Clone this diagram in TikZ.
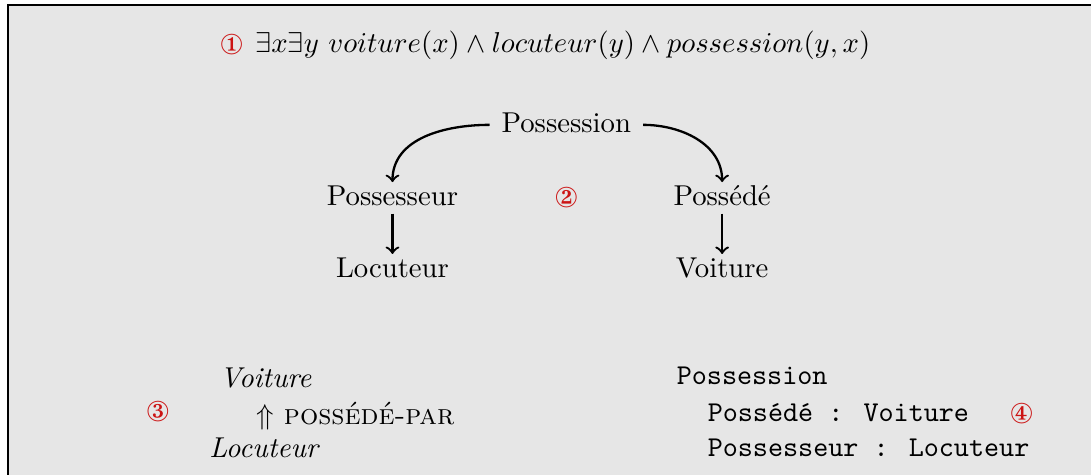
\documentclass[tikz,border=0pt]{standalone}
\usepackage{fontspec}
\usepackage{xcolor}
\usepackage{pifont}
\usepackage{tikz}
\usetikzlibrary{arrows,positioning}

\definecolor{fond}{HTML}{E6E6E6}
\definecolor{rouge}{rgb}{0.8,0.08,0.08}

\begin{document}
\begin{tikzpicture}[
    concept/.style={inner xsep=4pt, inner ysep=1.5pt, text height=1.5ex, text depth=.25ex},
    numero/.style={text=rouge, inner sep=1pt},
    ligne/.style={inner sep=0pt, anchor=base west},
    fleche/.style={->, thick}
]
    \useasboundingbox (0,0) rectangle (13.354,-5.802);
    % Cadre
    \fill[fond] (0.098,-0.061) rectangle (13.6,-6.0);
    \draw[line width=0.7pt] (0.098,-6.0) -- (0.098,-0.061) -- (13.6,-0.061);

    % 1 - Formule logique
    \node[numero] (n1) at (2.836,-0.550) {\ding{172}};
    \node (formule) at (6.889,-0.550) {$\exists x\exists y\ voiture(x)\wedge locuteur(y)\wedge possession(y,x)$};

    % 2 - Graphe conceptuel
    \node[concept] (poss) at (6.932,-1.528) {Possession};
    \node[concept] (possr) at (4.804,-2.421) {Possesseur};
    \node[numero] (n2) at (6.932,-2.421) {\ding{173}};
    \node[concept] (posse) at (8.839,-2.421) {Possédé};
    \node[concept] (loc) at (4.804,-3.301) {Locuteur};
    \node[concept] (voit) at (8.839,-3.301) {Voiture};

    \draw[fleche] (poss.west) to[out=180, in=90] (possr.north);
    \draw[fleche] (poss.east) to[out=0, in=90] (posse.north);
    \draw[fleche] (possr) -- (loc);
    \draw[fleche] (posse) -- (voit);

    % 3 - Reseau semantique
    \node[numero] (n3) at (1.932,-5.037) {\ding{174}};
    \node (voit3) at (3.252,-4.621) {\textit{Voiture}};
    \node[anchor=west] (rel3) at (3.020,-5.098) {$\Uparrow$ \textsc{possédé-par}};
    \node (loc3) at (3.240,-5.477) {\textit{Locuteur}};

    % 4 - Frame
    \node[ligne] (frame) at (8.277,-4.707) {\texttt{Possession}};
    \node[ligne] (slot1) at (8.656,-5.159) {\texttt{Possédé : Voiture}};
    \node[ligne] (slot2) at (8.656,-5.587) {\texttt{Possesseur : Locuteur}};
    \node[numero] (n4) at (12.506,-5.061) {\ding{175}};
\end{tikzpicture}
\end{document}
